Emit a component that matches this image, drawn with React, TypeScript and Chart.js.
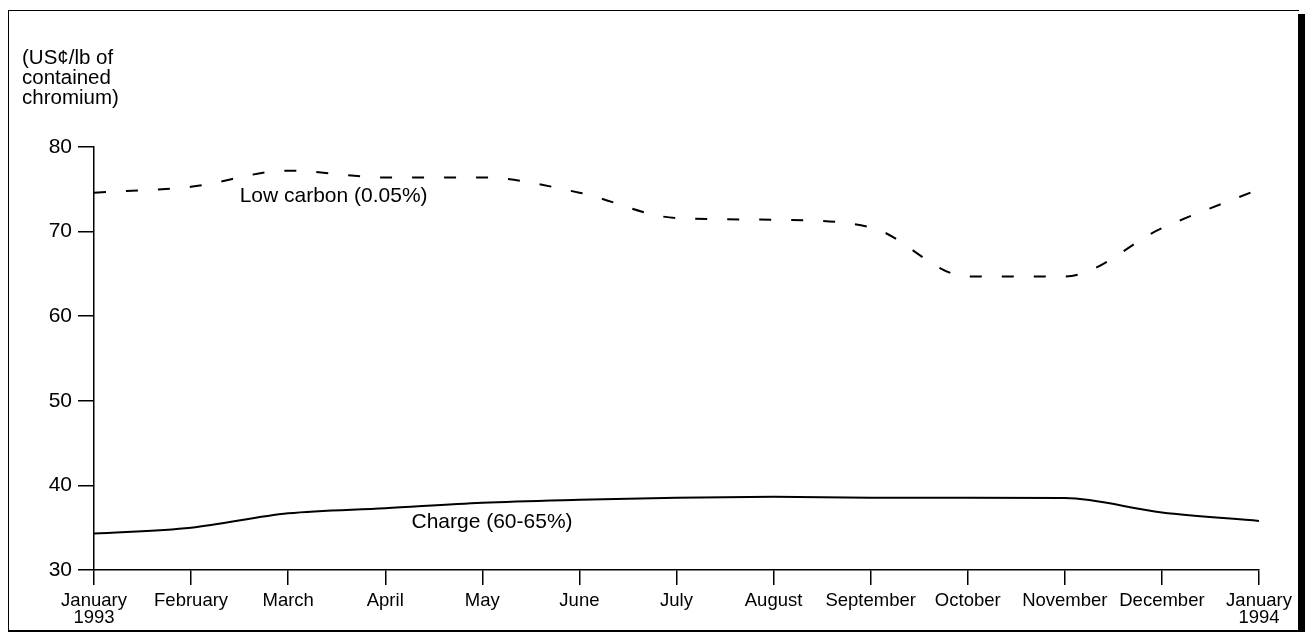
import { useEffect, useRef } from 'react';
import { Chart, registerables } from 'chart.js';

Chart.register(...registerables);

const months: (string | string[])[] = [
  ['January', '1993'], 'February', 'March', 'April', 'May', 'June', 'July',
  'August', 'September', 'October', 'November', 'December', ['January', '1994'],
];
const lowCarbon = [74.6, 75.3, 77.2, 76.4, 76.4, 74.6, 71.6, 71.4, 70.5, 64.7, 64.7, 70.4, 75.0];
const charge = [34.3, 35.0, 36.7, 37.3, 37.95, 38.3, 38.55, 38.65, 38.55, 38.55, 38.5, 36.8, 35.8];
const yMin = 30;
const yMax = 80;
const yStep = 10;
const yTitle = ['(US¢/lb of', 'contained', 'chromium)'];
const seriesNames = ['Low carbon (0.05%)', 'Charge (60-65%)'];
// label anchors in data coordinates [category index, value]
const labelAnchors: [number, number][] = [[1.5, 74.2], [3.27, 35.7]];

const FONT = "'Liberation Sans', Arial, Helvetica, sans-serif";

export default function App() {
  const ref = useRef<HTMLCanvasElement | null>(null);

  useEffect(() => {
    if (!ref.current) return;
    const textPlugin = {
      id: 'texts',
      afterDraw(chart: any) {
        const ctx = chart.ctx;
        const xs = chart.scales.x;
        const ys = chart.scales.y;
        ctx.save();
        ctx.fillStyle = '#000';
        ctx.textBaseline = 'middle';
        ctx.textAlign = 'left';
        ctx.font = `20.5px ${FONT}`;
        yTitle.forEach((t, i) => ctx.fillText(t, 22, 58 + i * 20));
        ctx.font = `21px ${FONT}`;
        seriesNames.forEach((t, i) => {
          const [ix, v] = labelAnchors[i];
          const x0 = xs.getPixelForValue(Math.floor(ix));
          const x1 = xs.getPixelForValue(Math.floor(ix) + 1);
          const x = x0 + (x1 - x0) * (ix - Math.floor(ix));
          ctx.fillText(t, x, ys.getPixelForValue(v));
        });
        ctx.restore();
      },
    };

    const chart = new Chart(ref.current, {
      type: 'line',
      data: {
        labels: months as any,
        datasets: [
          {
            label: seriesNames[0],
            data: lowCarbon,
            borderColor: '#000',
            borderWidth: 2,
            borderDash: [12, 20],
            pointRadius: 0,
            cubicInterpolationMode: 'monotone',
            fill: false,
          },
          {
            label: seriesNames[1],
            data: charge,
            borderColor: '#000',
            borderWidth: 2,
            pointRadius: 0,
            cubicInterpolationMode: 'monotone',
            fill: false,
          },
        ],
      },
      options: {
        animation: false,
        responsive: false,
        maintainAspectRatio: false,
        layout: { padding: { left: 0, top: 147, right: 46, bottom: 0 } },
        plugins: { legend: { display: false }, tooltip: { enabled: false }, title: { display: false } },
        scales: {
          x: {
            offset: false,
            grid: { display: true, drawOnChartArea: false, drawTicks: true, tickLength: 15, color: '#000', lineWidth: 1.5 },
            border: { display: true, color: '#000', width: 1.5 },
            ticks: {
              color: '#000',
              font: { family: FONT, size: 18.5, lineHeight: 0.95 },
              padding: 7,
              maxRotation: 0,
              minRotation: 0,
              autoSkip: false,
            },
            afterFit(s: any) {
              s.height = 65;
              s.paddingLeft = 0;
              s.paddingRight = 0;
            },
          },
          y: {
            min: yMin,
            max: yMax,
            grid: { display: true, drawOnChartArea: false, drawTicks: true, tickLength: 16, color: '#000', lineWidth: 1.5 },
            border: { display: true, color: '#000', width: 1.5 },
            ticks: {
              stepSize: yStep,
              color: '#000',
              font: { family: FONT, size: 21 },
              padding: 6,
            },
            afterFit(s: any) {
              s.width = 94;
              s.paddingTop = 0;
              s.paddingBottom = 0;
            },
          },
        },
      },
      plugins: [textPlugin],
    });
    return () => chart.destroy();
  }, []);

  return (
    <div style={{ position: 'fixed', left: 0, top: 0, width: 1305, height: 635, background: '#fff' }}>
      <canvas ref={ref} width={1305} height={635} style={{ position: 'absolute', left: 0, top: 0, width: 1305, height: 635 }} />
      <div style={{ position: 'absolute', left: 8, top: 10, width: 1291, height: 622, boxSizing: 'border-box', borderLeft: '1.5px solid #000', borderTop: '1.5px solid #000', borderBottom: '2px solid #000', pointerEvents: 'none' }} />
      <div style={{ position: 'absolute', left: 1298, top: 14, width: 7, height: 618, background: '#000', pointerEvents: 'none' }} />
    </div>
  );
}
